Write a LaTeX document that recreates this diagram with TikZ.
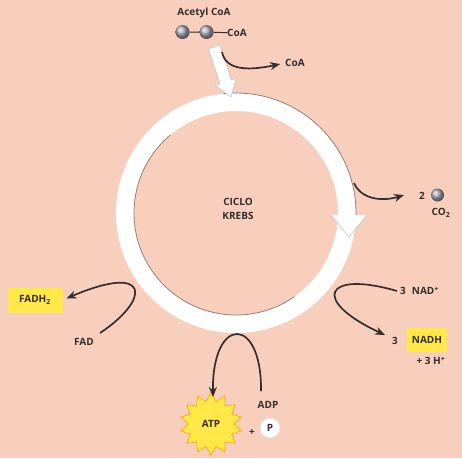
\documentclass[tikz,border=0pt]{standalone}
\usepackage{fontspec}
\setmainfont{Open Sans}
\usetikzlibrary{arrows.meta,shapes.geometric}
\definecolor{salmon}{RGB}{248,206,189}
\definecolor{ink}{RGB}{52,46,46}
\definecolor{lemon}{RGB}{255,232,72}
\definecolor{rimcol}{RGB}{150,125,120}
\tikzset{
  lbl/.style = {inner sep=0pt, text=ink,
    font=\bfseries\fontsize{10}{14}\selectfont},% plain label
  ybox/.style = {lbl, fill=lemon, minimum height=25pt},% yellow product box
  mol/.style = {circle, inner sep=0pt, minimum size=14pt,
    shading=ball, ball color=blue!10!gray!60},% carbon ball
  flow/.style = {ink, line width=1.7pt, -{Stealth[length=10pt,width=8pt]}},
  ring/.style = {white, line width=18pt},
  rim/.style = {rimcol, line width=0.8pt}
}
\begin{document}
\begin{tikzpicture}[x=1pt,y=-1pt]
  \fill[salmon] (0,0) rectangle (462,458);
  \useasboundingbox (0,0) rectangle (462,458);
  \coordinate (ctr) at (236,213);
  % the cycle
  \draw[ring] (ctr) circle (111pt);
  \draw[rim] (ctr) ++(96:120pt) arc[start angle=96, end angle=-4, radius=120pt];
  \draw[rim] (ctr) ++(130:102pt) arc[start angle=130, end angle=305, radius=102pt];
  \fill[white] (331,215) -- (367,215) -- (349,237) -- cycle;
  \draw[rim, gray!45, line width=0.6pt] (331,215) -- (349,237) -- (367,215);
  % acetyl entry
  \filldraw[fill=white, draw=gray!45, line width=0.6pt]
    (208.3,48.9) -- (219.7,45.1) -- (231.5,80.1) -- (236.2,78.5)
    -- (231,97) -- (215.4,85.5) -- (220.1,83.9) -- cycle;
  \node[lbl] (acetyl) at (204,13) {Acetyl CoA};
  \node[mol] (c1) at (182.5,32) {};
  \node[mol] (c2) at (206.5,32) {};
  \node[lbl, anchor=west] (coaA) at (227,33) {CoA};
  \draw[ink, line width=1pt] (c1) -- (c2) -- (coaA);
  \node[lbl, anchor=west] (coaB) at (285,63) {CoA};
  \coordinate (coaOut) at (222,52);
  \draw[flow, shorten >=5pt] (coaOut) .. controls (226,72) and (252,70) .. (coaB.west);
  % CO2
  \node[lbl] (two) at (422,196) {2};
  \node[mol, minimum size=13pt] (co2ball) at (437.5,195) {};
  \node[lbl] (co2) at (441,213) {CO\textsubscript{2}};
  \coordinate (co2Out) at (354,183);
  \coordinate (co2Tip) at (404,195);
  \draw[flow] (co2Out) .. controls (362,201) and (385,201) .. (co2Tip);
  % FAD
  \node[ybox, minimum width=55pt] (fadh) at (35,300) {FADH\textsubscript{2}};
  \node[lbl] (fad) at (84,342) {FAD};
  \coordinate (fadIn) at (100,333);
  \draw[flow, shorten >=4pt] (fadIn) .. controls (150,300) and (152,262) .. (fadh.east);
  % NAD
  \node[lbl, anchor=west] (nad) at (400,291) {3\hspace{6pt}NAD\textsuperscript{+}};
  \node[lbl] (three) at (395,341) {3};
  \node[ybox, minimum width=40pt, minimum height=24pt] (nadh) at (427,340) {NADH};
  \node[lbl] (hplus) at (431,361) {+ 3 H\textsuperscript{+}};
  \coordinate (nadTip) at (385,335);
  \draw[flow] ([xshift=-3pt]nad.west) .. controls (325,270) and (310,300) .. (nadTip);
  % ATP
  \node[star, star points=14, star point ratio=1.35, minimum size=62pt,
    inner sep=0pt, fill=lemon, draw=orange!75!yellow, line width=0.6pt,
    lbl] (atp) at (211,424) {ATP};
  \node[lbl] (adp) at (268,405) {ADP};
  \node[lbl] (plus) at (252,433) {+};
  \node[lbl, circle, fill=white, draw=gray!30, minimum size=20pt] (pi) at (270,428) {P};
  \coordinate (adpOut) at (261,391);
  \coordinate (atpTip) at (213,397);
  \draw[flow] (adpOut) .. controls (262,315) and (212,315) .. (atpTip);
  % centre
  \node[lbl, align=center] (krebs) at (238,209) {CICLO\\KREBS};
\end{tikzpicture}
\end{document}
